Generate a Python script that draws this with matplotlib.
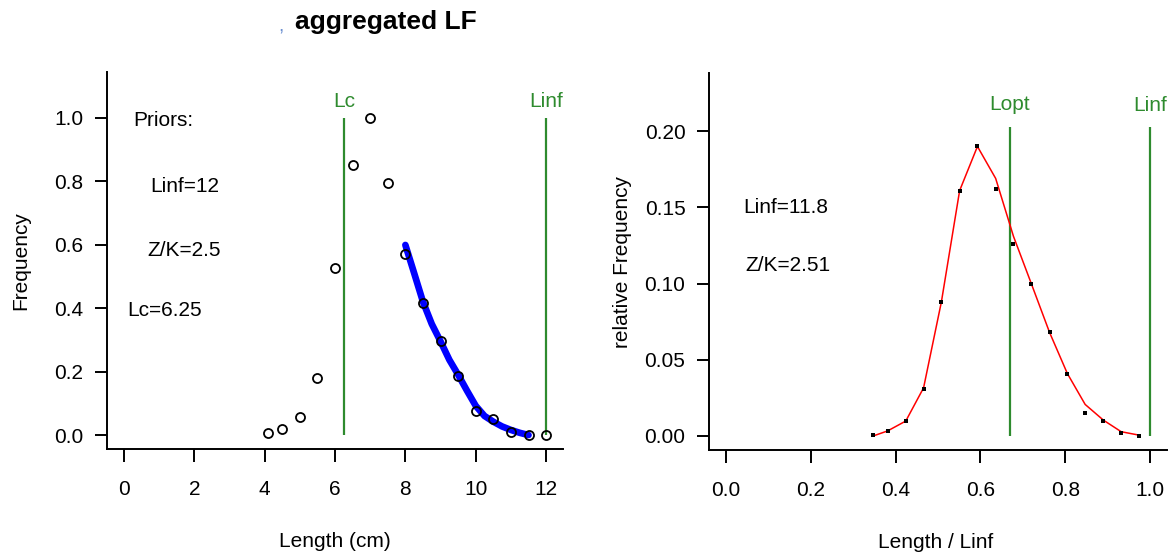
import matplotlib
matplotlib.use("Agg")
import matplotlib.pyplot as plt

# ---------------- data ----------------
length_cm = [4.1, 4.5, 5.0, 5.5, 6.0, 6.5, 7.0, 7.5, 8.0, 8.5, 9.0, 9.5,
             10.0, 10.5, 11.0, 11.5, 12.0]
freq_obs = [0.007, 0.019, 0.056, 0.179, 0.526, 0.852, 1.0, 0.794, 0.570,
            0.415, 0.297, 0.187, 0.077, 0.050, 0.008, 0.0, 0.0]

fit_len = [8.0, 8.25, 8.5, 8.75, 9.0, 9.25, 9.5, 9.75, 10.0, 10.25, 10.5,
           10.75, 11.0, 11.25, 11.5]
fit_freq = [0.599, 0.51, 0.42, 0.35, 0.295, 0.237, 0.19, 0.14, 0.092, 0.06,
            0.042, 0.027, 0.016, 0.007, 0.0]

lc_prior = 6.25
linf_prior = 12.0

rel_len = [0.347, 0.381, 0.424, 0.466, 0.508, 0.551, 0.593, 0.636, 0.678,
           0.720, 0.763, 0.805, 0.847, 0.890, 0.932, 0.975]
rel_obs = [0.0005, 0.0033, 0.0098, 0.0307, 0.088, 0.161, 0.190, 0.162, 0.126,
           0.100, 0.068, 0.041, 0.0150, 0.0098, 0.0020, 0.0003]
rel_fit = [0.0, 0.0033, 0.0098, 0.0316, 0.088, 0.161, 0.190, 0.169, 0.131,
           0.100, 0.068, 0.041, 0.0207, 0.0104, 0.0028, 0.0005]
lopt_rel = 0.669
linf_rel = 1.0

left_xticks = [0, 2, 4, 6, 8, 10, 12]
left_yticks = [0.0, 0.2, 0.4, 0.6, 0.8, 1.0]
right_xticks = [0.0, 0.2, 0.4, 0.6, 0.8, 1.0]
right_yticks = [0.00, 0.05, 0.10, 0.15, 0.20]

# ---------------- style ----------------
plt.rcParams['font.family'] = ['Liberation Sans', 'DejaVu Sans']
FS = 15
GREEN = '#2e8b2e'

W, H = 1173, 556
fig = plt.figure(figsize=(W / 100, H / 100), dpi=100)


def px_axes(x0, y0, x1, y1):
    return fig.add_axes([x0 / W, 1 - y1 / H, (x1 - x0) / W, (y1 - y0) / H])


def style(ax):
    for s in ('top', 'right'):
        ax.spines[s].set_visible(False)
    for s in ('left', 'bottom'):
        ax.spines[s].set_linewidth(1.4)
    ax.tick_params(direction='out', length=9, width=1.4, labelsize=FS,
                   color='black')
    ax.tick_params(axis='x', pad=13)
    ax.tick_params(axis='y', pad=8)


# ---------------- left panel ----------------
ax1 = px_axes(107, 72, 563, 449)
style(ax1)
ax1.set_xlim(-0.48, 12.48)
ax1.set_ylim(-0.044, 1.144)
ax1.set_xticks(left_xticks)
ax1.set_xticklabels([str(v) for v in left_xticks])
ax1.set_yticks(left_yticks)
ax1.set_yticklabels([f"{v:.1f}" for v in left_yticks])

ax1.plot(fit_len, fit_freq, color='#0000ff', lw=4.8, solid_capstyle='round',
         zorder=2)
ax1.plot(length_cm, freq_obs, 'o', mfc='none', mec='black', ms=6.5, mew=1.3,
         zorder=3)
ax1.vlines([lc_prior, linf_prior], 0, 1.0, colors=GREEN, lw=1.6, zorder=1)
ax1.text(lc_prior, 1.05, 'Lc', color=GREEN, fontsize=FS, ha='center',
         va='center')
ax1.text(linf_prior, 1.05, 'Linf', color=GREEN, fontsize=FS, ha='center',
         va='center')

ax1.text(0.26, 0.99, 'Priors:', fontsize=FS, ha='left', va='center')
ax1.text(0.74, 0.783, 'Linf=12', fontsize=FS, ha='left', va='center')
ax1.text(0.68, 0.58, 'Z/K=2.5', fontsize=FS, ha='left', va='center')
ax1.text(0.09, 0.394, 'Lc=6.25', fontsize=FS, ha='left', va='center')

ax1.set_xlabel('Length (cm)', fontsize=FS)
ax1.xaxis.label.set_va('center')
ax1.xaxis.set_label_coords(0.5, (449 - 541.5) / 377)
ax1.set_ylabel('Frequency', fontsize=FS)
ax1.yaxis.label.set_va('center')
ax1.yaxis.set_label_coords((21 - 107) / 456, 0.5)

# ---------------- right panel ----------------
ax2 = px_axes(709, 73, 1167, 450)
style(ax2)
ax2.set_xlim(-0.04, 1.04)
ax2.set_ylim(-0.0092, 0.2382)
ax2.set_xticks(right_xticks)
ax2.set_xticklabels([f"{v:.1f}" for v in right_xticks])
ax2.set_yticks(right_yticks)
ax2.set_yticklabels([f"{v:.2f}" for v in right_yticks])

ax2.plot(rel_len, rel_fit, color='red', lw=1.1, zorder=2)
ax2.plot(rel_len, rel_obs, 's', color='black', ms=2.4, mew=0, zorder=3)
ax2.vlines([lopt_rel, linf_rel], 0, 0.203, colors=GREEN, lw=1.6, zorder=1)
ax2.text(lopt_rel, 0.2175, 'Lopt', color=GREEN, fontsize=FS, ha='center',
         va='center')
ax2.text(linf_rel, 0.2168, 'Linf', color=GREEN, fontsize=FS, ha='center',
         va='center')

ax2.text(0.040, 0.150, 'Linf=11.8', fontsize=FS, ha='left', va='center')
ax2.text(0.045, 0.112, 'Z/K=2.51', fontsize=FS, ha='left', va='center')

ax2.set_xlabel('Length / Linf', fontsize=FS)
ax2.xaxis.label.set_va('center')
ax2.xaxis.set_label_coords((936 - 709) / 458, (450 - 543) / 377)
ax2.set_ylabel('relative Frequency', fontsize=FS)
ax2.yaxis.label.set_va('center')
ax2.yaxis.set_label_coords((623 - 709) / 458, 0.5)

# ---------------- title ----------------
fig.text(386 / W, 1 - 22 / H, 'aggregated LF', fontsize=19, fontweight='bold',
         ha='center', va='center')
fig.text(281 / W, 1 - 27 / H, ',', fontsize=14, color='#6a8fd0',
         ha='center', va='center')

fig.savefig('out.png', dpi=100)
